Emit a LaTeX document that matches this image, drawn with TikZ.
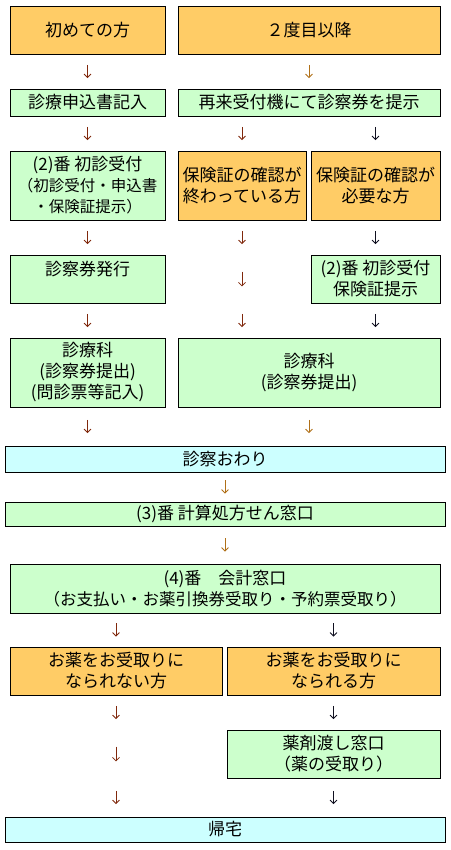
\documentclass[tikz,border=0pt]{standalone}
\usepackage{fontspec}
\setmainfont{Noto Sans CJK JP}
\usetikzlibrary{arrows.meta,calc}
\definecolor{boxorange}{HTML}{FFCC66}
\definecolor{boxgreen}{HTML}{CCFFCC}
\definecolor{boxcyan}{HTML}{CCFFFF}
\definecolor{arrred}{HTML}{80280C}
\definecolor{arrorange}{HTML}{B07018}
\definecolor{arrdark}{HTML}{101020}
\newcommand{\smallline}{\fontsize{15.5}{21}\selectfont}
\begin{document}
\begin{tikzpicture}[x=1pt,y=-1pt,
  box/.style={draw=black,line width=0.8pt,inner sep=0pt,align=center,
    font=\fontsize{17}{21}\selectfont},
  obox/.style={box,fill=boxorange},
  gbox/.style={box,fill=boxgreen},
  cbox/.style={box,fill=boxcyan},
  arr/.style={line width=0.8pt,-{Straight Barb[length=3.5pt,width=7pt]}},
  ared/.style={arr,draw=arrred},
  aora/.style={arr,draw=arrorange},
  adark/.style={arr,draw=arrdark},
  g35/.style={shorten <=10.5pt,shorten >=10.5pt},
  g39/.style={shorten <=12.5pt,shorten >=12.5pt},
  g48/.style={shorten <=17pt,shorten >=17pt},
  g30/.style={shorten <=8pt,shorten >=8pt},
  g38/.style={shorten <=12pt,shorten >=12pt},
  g34/.style={shorten <=10pt,shorten >=10pt}]
\useasboundingbox[fill=white] (0,0) rectangle (450,850);
% boxes
\node[obox,minimum width=155pt,minimum height=48pt] (A1) at (87.5,30) {初めての方};
\node[obox,minimum width=262pt,minimum height=48pt] (A2) at (309,30) {２度目以降};
\node[gbox,minimum width=155pt,minimum height=27pt] (B1) at (87.5,102.5) {診療申込書記入};
\node[gbox,minimum width=262pt,minimum height=27pt] (B2) at (309,102.5) {再来受付機にて診察券を提示};
\node[gbox,minimum width=155pt,minimum height=69pt] (C1) at (87.5,185.5) {(2)番 初診受付\\{\smallline（初診受付・申込書}\\{\smallline・保険証提示）}};
\node[obox,minimum width=128pt,minimum height=69pt] (C2) at (242,185.5) {保険証の確認が\\終わっている方};
\node[obox,minimum width=129pt,minimum height=69pt] (C3) at (375.5,185.5) {保険証の確認が\\必要な方};
\node[gbox,minimum width=155pt,minimum height=48pt] (D1) at (87.5,279) {診察券発行\\\mbox{}};
\node[gbox,minimum width=129pt,minimum height=48pt] (D3) at (375.5,279) {(2)番 初診受付\\保険証提示};
\node[gbox,minimum width=155pt,minimum height=69pt] (E1) at (87.5,372.5) {診療科\\(診察券提出)\\(問診票等記入)};
\node[gbox,minimum width=262pt,minimum height=69pt] (E2) at (309,372.5) {診療科\\(診察券提出)};
\node[cbox,minimum width=440pt,minimum height=26pt] (F) at (225,459) {診察おわり};
\node[gbox,minimum width=440pt,minimum height=24pt] (G) at (225,514) {(3)番 計算処方せん窓口};
\node[gbox,minimum width=430pt,minimum height=49pt] (H) at (225,588.5) {(4)番　会計窓口\\{\fontsize{16.5}{21}\selectfont（お支払い・お薬引換券受取り・予約票受取り）}};
\node[obox,minimum width=212pt,minimum height=48pt] (I1) at (116,671) {お薬をお受取りに\\なられない方};
\node[obox,minimum width=213pt,minimum height=48pt] (I2) at (333.5,671) {お薬をお受取りに\\なられる方};
\node[gbox,minimum width=213pt,minimum height=48pt] (J2) at (333.5,754) {薬剤渡し窓口\\（薬の受取り）};
\node[cbox,minimum width=440pt,minimum height=25pt] (K) at (225,829.5) {帰宅};
% intermediate points
\coordinate (m1) at (C2.south |- D1.north);
\coordinate (m2) at (C2.south |- D1.south);
\coordinate (n1) at (I1.south |- J2.north);
\coordinate (n2) at (I1.south |- J2.south);
% arrows
\draw[ared,g35] (A1.south) -- (B1.north);
\draw[aora,g35] (A2.south) -- (B2.north);
\draw[ared,g35] (B1.south) -- (C1.north);
\draw[ared,g35] (C2.north |- B2.south) -- (C2.north);
\draw[adark,g35] (C3.north |- B2.south) -- (C3.north);
\draw[ared,g35] (C1.south) -- (D1.north);
\draw[ared,g35] (C2.south) -- (m1);
\draw[ared,g48] (m1) -- (m2);
\draw[ared,g35] (m2) -- (C2.south |- E2.north);
\draw[adark,g35] (C3.south) -- (D3.north);
\draw[ared,g35] (D1.south) -- (E1.north);
\draw[adark,g35] (D3.south) -- (D3.south |- E2.north);
\draw[ared,g39] (E1.south) -- (E1.south |- F.north);
\draw[aora,g39] (E2.south) -- (E2.south |- F.north);
\draw[aora,g30] (F.south) -- (G.north);
\draw[aora,g38] (G.south) -- (H.north);
\draw[ared,g34] (I1.north |- H.south) -- (I1.north);
\draw[adark,g34] (I2.north |- H.south) -- (I2.north);
\draw[ared,g35] (I1.south) -- (n1);
\draw[ared,g48] (n1) -- (n2);
\draw[ared,g39] (n2) -- (n2 |- K.north);
\draw[adark,g35] (I2.south) -- (J2.north);
\draw[adark,g39] (J2.south) -- (J2.south |- K.north);
\end{tikzpicture}
\end{document}
